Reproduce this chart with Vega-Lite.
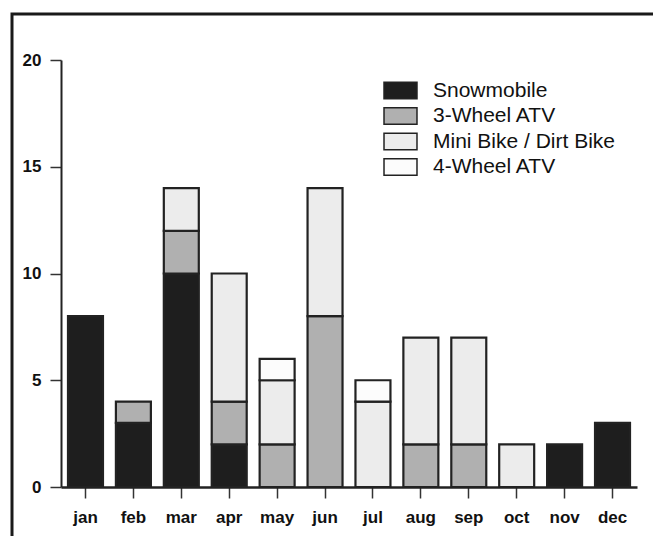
{
  "$schema": "https://vega.github.io/schema/vega-lite/v6.json",
  "autosize": {"type": "none"},
  "padding": {"left": 12, "top": 14, "right": 0, "bottom": 0},
  "width": 675,
  "height": 526,
  "background": "white",
  "config": {
    "view": {"stroke": "#1a1a1a", "strokeWidth": 3},
    "font": "Liberation Sans"
  },
  "data": {
    "values": [
      {"month": "jan", "type": "Snowmobile", "rank": 1, "count": 8},
      {"month": "feb", "type": "Snowmobile", "rank": 1, "count": 3},
      {"month": "feb", "type": "3-Wheel ATV", "rank": 2, "count": 1},
      {"month": "mar", "type": "Snowmobile", "rank": 1, "count": 10},
      {"month": "mar", "type": "3-Wheel ATV", "rank": 2, "count": 2},
      {"month": "mar", "type": "Mini Bike / Dirt Bike", "rank": 3, "count": 2},
      {"month": "apr", "type": "Snowmobile", "rank": 1, "count": 2},
      {"month": "apr", "type": "3-Wheel ATV", "rank": 2, "count": 2},
      {"month": "apr", "type": "Mini Bike / Dirt Bike", "rank": 3, "count": 6},
      {"month": "may", "type": "3-Wheel ATV", "rank": 2, "count": 2},
      {"month": "may", "type": "Mini Bike / Dirt Bike", "rank": 3, "count": 3},
      {"month": "may", "type": "4-Wheel ATV", "rank": 4, "count": 1},
      {"month": "jun", "type": "3-Wheel ATV", "rank": 2, "count": 8},
      {"month": "jun", "type": "Mini Bike / Dirt Bike", "rank": 3, "count": 6},
      {"month": "jul", "type": "Mini Bike / Dirt Bike", "rank": 3, "count": 4},
      {"month": "jul", "type": "4-Wheel ATV", "rank": 4, "count": 1},
      {"month": "aug", "type": "3-Wheel ATV", "rank": 2, "count": 2},
      {"month": "aug", "type": "Mini Bike / Dirt Bike", "rank": 3, "count": 5},
      {"month": "sep", "type": "3-Wheel ATV", "rank": 2, "count": 2},
      {"month": "sep", "type": "Mini Bike / Dirt Bike", "rank": 3, "count": 5},
      {"month": "oct", "type": "Mini Bike / Dirt Bike", "rank": 3, "count": 2},
      {"month": "nov", "type": "Snowmobile", "rank": 1, "count": 2},
      {"month": "dec", "type": "Snowmobile", "rank": 1, "count": 3}
    ]
  },
  "mark": {"type": "bar", "stroke": "#222222", "strokeWidth": 2.2},
  "encoding": {
    "x": {
      "field": "month",
      "type": "nominal",
      "sort": ["jan", "feb", "mar", "apr", "may", "jun", "jul", "aug", "sep", "oct", "nov", "dec"],
      "scale": {"range": [49, 625], "paddingInner": 0.27, "paddingOuter": 0.146},
      "axis": {
        "title": null,
        "offset": -53,
        "labelAngle": 0,
        "labelFont": "Liberation Sans",
        "labelFontSize": 17,
        "labelFontWeight": "bold",
        "labelColor": "#111",
        "labelPadding": 11,
        "tickSize": 11,
        "tickColor": "#333",
        "tickWidth": 1.5,
        "domainColor": "#222",
        "domainWidth": 2.5
      }
    },
    "y": {
      "field": "count",
      "type": "quantitative",
      "aggregate": "sum",
      "stack": "zero",
      "scale": {"domain": [0, 20], "range": [473, 46], "nice": false},
      "axis": {
        "title": null,
        "offset": -49,
        "values": [0, 5, 10, 15, 20],
        "grid": false,
        "labelFont": "Liberation Sans",
        "labelFontSize": 17,
        "labelFontWeight": "bold",
        "labelColor": "#111",
        "labelPadding": 9,
        "tickSize": 11,
        "tickColor": "#333",
        "tickWidth": 1.5,
        "domainColor": "#222",
        "domainWidth": 2
      }
    },
    "color": {
      "field": "type",
      "type": "nominal",
      "sort": ["Snowmobile", "3-Wheel ATV", "Mini Bike / Dirt Bike", "4-Wheel ATV"],
      "scale": {
        "domain": ["Snowmobile", "3-Wheel ATV", "Mini Bike / Dirt Bike", "4-Wheel ATV"],
        "range": ["#1e1e1e", "#b0b0b0", "#ececec", "#fcfcfc"]
      },
      "legend": {
        "title": null,
        "orient": "none",
        "legendX": 378,
        "legendY": 66,
        "symbolType": "M-2,-1H2V1H-2Z",
        "symbolSize": 272,
        "symbolStrokeColor": "#222",
        "symbolStrokeWidth": 1.5,
        "symbolOpacity": 1,
        "labelFont": "Liberation Sans",
        "labelFontSize": 21,
        "labelColor": "#111",
        "labelOffset": 22,
        "rowPadding": 2.5,
        "labelLimit": 300
      }
    },
    "order": {"field": "rank", "type": "quantitative", "sort": "ascending"}
  }
}
